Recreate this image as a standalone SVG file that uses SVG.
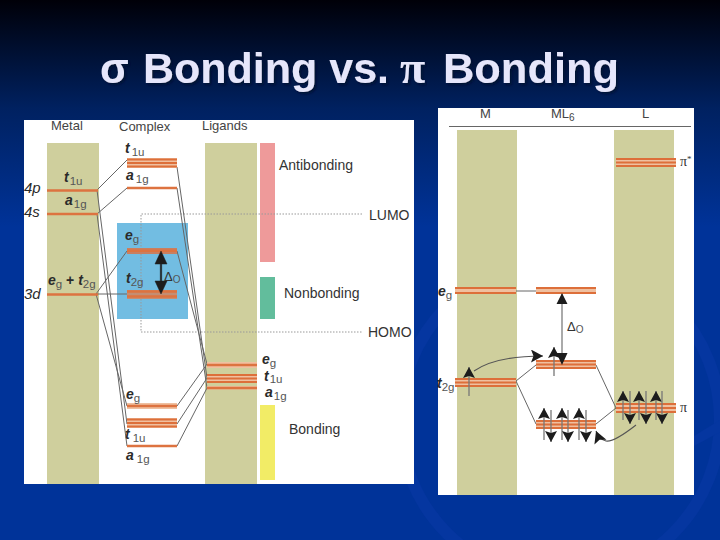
<svg xmlns="http://www.w3.org/2000/svg" width="720" height="540" viewBox="0 0 720 540">
<defs>
<linearGradient id="bg" x1="0" y1="0" x2="0" y2="1"><stop offset="0" stop-color="#000008"/><stop offset="0.2" stop-color="#002160"/><stop offset="0.42" stop-color="#003399"/><stop offset="1" stop-color="#003399"/></linearGradient>
<marker id="ah" markerUnits="userSpaceOnUse" markerWidth="16" markerHeight="14" refX="12" refY="6.500" orient="auto"><path d="M0 0L12 6.500L0 13L2.500 6.500Z" fill="#1c1c1c"/></marker>
<marker id="as" markerUnits="userSpaceOnUse" markerWidth="14" markerHeight="14" refX="11" refY="6" orient="auto"><path d="M0 0L11 6L0 12L2 6Z" fill="#1c1c1c"/></marker>
<filter id="sh" x="-5%" y="-20%" width="110%" height="150%"><feDropShadow dx="2" dy="2" stdDeviation="0.8" flood-color="#001030" flood-opacity="0.8"/></filter>
</defs>
<style>
text{font-family:"Liberation Sans",Arial,sans-serif;fill:#333}
.title{font-size:42px;font-weight:bold;fill:#e6e6fb;filter:url(#sh)}
.title .pi{font-family:"Liberation Serif","DejaVu Serif",serif;font-size:46px}
.h{font-size:13px;fill:#444}
.b{font-size:14px;fill:#333}
.n{font-size:15px;font-style:italic;fill:#2a2a2a}
.v{font-size:14px;font-style:italic;font-weight:bold;fill:#2a2a2a}
.s{font-size:11.500px;font-style:normal;font-weight:normal;fill:#555}
.col{fill:#cfcf9d}
.l1{stroke:#dd7340;stroke-width:2.600;fill:none}
.lt{fill:#efc0a0}
.tri{stroke:#dd6f3a;stroke-width:1.900;fill:none}
.c{stroke:#666;stroke-width:1;fill:none}
.dot{stroke:#999;stroke-width:1;stroke-dasharray:1.500 1.500;fill:none}
.e{stroke:#777;stroke-width:1.300;fill:none;marker-end:url(#as)}
.k{stroke:#555;stroke-width:1.100;fill:none;marker-end:url(#ah)}
</style>
<rect width="720" height="540" fill="url(#bg)"/>
<circle cx="560" cy="420" r="160" fill="none" stroke="#0536a0" stroke-width="12"/>
<path d="M694 436L720 420V432L694 446Z" fill="#0536a0"/>
<g id="title"><text class="title" x="100" y="83">σ</text><text class="title" x="143" y="83" textLength="246" lengthAdjust="spacingAndGlyphs">Bonding vs.</text><text class="title" x="400" y="83"><tspan class="pi">π</tspan></text><text class="title" x="443" y="83" textLength="176" lengthAdjust="spacingAndGlyphs">Bonding</text></g>

<g id="sigma-panel">
<rect x="24" y="120" width="390" height="364" fill="#fff"/>
<rect class="col" x="47" y="143" width="52" height="341"/>
<rect class="col" x="205" y="143" width="52" height="341"/>
<rect x="117" y="223" width="71" height="96" fill="#72bde2"/>
<rect x="260" y="143" width="15" height="119" fill="#ee9a9a"/>
<rect x="260" y="277" width="15" height="42" fill="#62bd9c"/>
<rect x="260" y="405" width="15" height="75" fill="#f2ec66"/>
</g>
<g id="pi-panel">
<rect x="438" y="108" width="256" height="387" fill="#fff"/>
<rect class="col" x="457" y="130" width="60" height="365"/>
<rect class="col" x="614" y="130" width="60" height="365"/>
</g>

<g id="connectors">
<path class="dot" d="M362 214H141V332H362"/>
<path class="c" d="M97 190L127 160M97 214L127 188M96 294L127 251M96 294H127M97 190L127 424M97 214L127 446M96 294L127 406"/>
<path class="c" d="M177 167L207 378M177 188L207 388M177 251L207 364M177 406L207 364M177 424L207 378M177 446L207 388"/>
<path class="c" d="M449 126.500H691M516 291H536M516 381L536 365M516 381L536 424M596 365L616 408M596 424L616 408"/>
</g>

<g id="metal-levels">
<path class="l1" d="M47 190.500H98M47 214H98M47 294.500H98"/>
<text class="h" x="51" y="130">Metal</text>
<text class="n" x="24" y="193">4p</text>
<text class="n" x="24" y="217">4s</text>
<text class="n" x="24" y="299">3d</text>
<text class="v" x="64" y="182">t<tspan class="s" dy="3" dx="1">1u</tspan></text>
<text class="v" x="65" y="205">a<tspan class="s" dy="3" dx="1">1g</tspan></text>
<text class="v" x="48" y="285">e<tspan class="s" dy="3">g</tspan><tspan dy="-3" font-style="normal"> + </tspan>t<tspan class="s" dy="3">2g</tspan></text>
</g>

<g id="complex-levels">
<rect class="lt" x="127" y="158" width="50" height="10"/><path class="tri" d="M127 159.500H177M127 163H177M127 166.500H177"/>
<path class="l1" d="M127 188H177"/>
<rect x="127" y="248" width="50" height="6" fill="#c97f60"/><path class="l1" d="M127 250.800H177" stroke-width="1.500"/>
<rect x="127" y="290" width="50" height="9" fill="#c48d72"/><path class="l1" d="M127 291.500H177M127 296.500H177" stroke-width="1.500"/>
<rect class="lt" x="127" y="403" width="50" height="6"/><path class="l1" d="M127 406H177" stroke-width="3"/>
<rect class="lt" x="127" y="418" width="50" height="10"/><path class="tri" d="M127 419.500H177M127 423H177M127 426.500H177"/>
<path class="l1" d="M127 446H177" stroke-width="2"/>
<text class="h" x="119" y="131">Complex</text>
<text class="v" x="125" y="153">t<tspan class="s" dy="3" dx="2">1u</tspan></text>
<text class="v" x="126" y="180">a<tspan class="s" dy="3" dx="2">1g</tspan></text>
<text class="v" x="125" y="240">e<tspan class="s" dy="3">g</tspan></text>
<text class="v" x="126" y="283">t<tspan class="s" dy="3">2g</tspan></text>
<text class="v" x="126" y="399">e<tspan class="s" dy="3">g</tspan></text>
<text class="v" x="125" y="439">t<tspan class="s" dy="3" dx="3">1u</tspan></text>
<text class="v" x="126" y="460">a<tspan class="s" dy="3" dx="3">1g</tspan></text>
<text x="164" y="281" font-size="13" fill="#333">Δ<tspan font-size="10" dy="2" fill="#555">O</tspan></text>
</g>
<path id="delta-sigma" d="M161 251L155 264H160.300V281H155L161 294L167 281H161.700V264H167Z" fill="#1c1c1c" stroke="#1c1c1c" stroke-width="0.500"/>

<g id="ligand-levels">
<rect class="lt" x="207" y="362" width="50" height="6"/><path class="l1" d="M207 365H257" stroke-width="3"/>
<rect class="lt" x="207" y="374" width="50" height="9"/><path class="tri" d="M207 375H257M207 378.500H257M207 382H257"/>
<rect class="lt" x="207" y="386" width="50" height="3.500"/><path class="l1" d="M207 388H257" stroke-width="1.500"/>
<text class="h" x="202" y="130">Ligands</text>
<text class="v" x="262" y="364">e<tspan class="s" dy="3">g</tspan></text>
<text class="v" x="264" y="381">t<tspan class="s" dy="2" dx="1">1u</tspan></text>
<text class="v" x="265" y="397">a<tspan class="s" dy="3" dx="1">1g</tspan></text>
</g>

<g id="band-labels">
<text class="b" x="279" y="170">Antibonding</text>
<text class="b" x="284" y="298">Nonbonding</text>
<text class="b" x="289" y="434">Bonding</text>
<text class="b" x="369" y="220">LUMO</text>
<text class="b" x="368" y="337">HOMO</text>
</g>

<g id="pi-M">
<rect class="lt" x="455" y="287" width="61" height="7"/><path class="tri" d="M455 288H516M455 293H516"/>
<rect class="lt" x="455" y="378" width="61" height="9"/><path class="tri" d="M455 379H516M455 382.500H516M455 386H516"/>
<text class="h" x="480" y="118">M</text>
<text class="v" x="438" y="296">e<tspan class="s" dy="3">g</tspan></text>
<text class="v" x="437" y="388">t<tspan class="s" dy="3">2g</tspan></text>
</g>

<g id="pi-ML6">
<rect class="lt" x="536" y="287" width="60" height="7"/><path class="tri" d="M536 288H596M536 293H596"/>
<rect class="lt" x="536" y="360" width="60" height="9"/><path class="tri" d="M536 361H596M536 364.500H596M536 368H596"/>
<rect class="lt" x="536" y="420" width="60" height="9"/><path class="tri" d="M536 421H596M536 424.500H596M536 428H596"/>
<text class="h" x="551" y="118">ML<tspan font-size="10" dy="3">6</tspan></text>
<text x="567" y="331" font-size="13" fill="#333">Δ<tspan font-size="10" dy="2" fill="#555">O</tspan></text>
</g>

<g id="pi-L">
<rect class="lt" x="616" y="158" width="60" height="9"/><path class="tri" d="M616 159H676M616 162.500H676M616 166H676"/>
<rect class="lt" x="616" y="403" width="60" height="10"/><path class="tri" d="M616 404H676M616 408H676M616 412H676"/>
<text class="h" x="642" y="118">L</text>
<text x="680" y="166" font-size="14" style="font-family:'Liberation Serif',serif">π<tspan font-size="9" dy="-4">*</tspan></text>
<text x="680" y="412" font-size="14" style="font-family:'Liberation Serif',serif">π</text>
</g>

<g id="pi-arrows">
<path d="M562 363V294" stroke="#aaa" stroke-width="2" fill="none"/>
<path d="M562 293L556.500 304H567.500ZM562 365L556.500 353H567.500Z" fill="#1c1c1c"/>
<path class="e" d="M469 396V367"/>
<path class="e" d="M554 376V347"/>
<path class="k" d="M474 371C490 360 512 356 543 356"/>
<path class="e" d="M544 440V408"/><path class="e" d="M562 440V408"/><path class="e" d="M579 440V408"/>
<path class="e" d="M551 410V442"/><path class="e" d="M568 410V442"/><path class="e" d="M586 410V442"/>
<path class="e" d="M623 420V391"/><path class="e" d="M639 420V391"/><path class="e" d="M656 420V391"/>
<path class="e" d="M630 391V424"/><path class="e" d="M646 391V424"/><path class="e" d="M662 391V424"/>
<path class="k" d="M636 425C622 436 612 442 606 441C601 440 598 436 596 431"/>
</g>
</svg>
